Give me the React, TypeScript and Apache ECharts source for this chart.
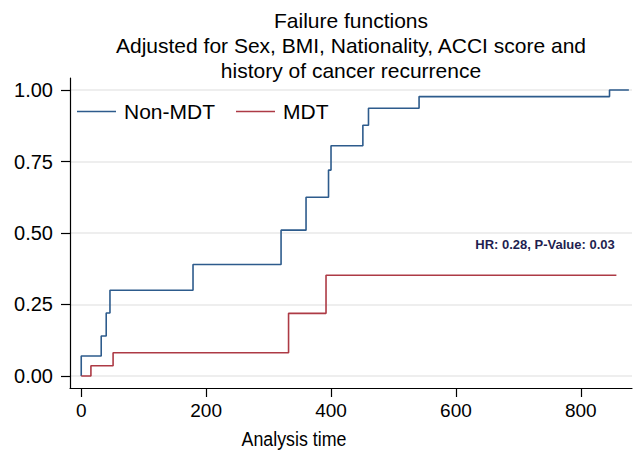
import React, { useEffect, useRef } from "react";
import * as echarts from "echarts";

const titleLines = [
  "Failure functions",
  "Adjusted for Sex, BMI, Nationality, ACCI score and",
  "history of cancer recurrence",
];
const nonMdtTimes = [0, 0, 32, 40, 46, 179, 320, 360, 396, 400, 451, 460, 541, 846, 877];
const nonMdtValues = [0, 0.07, 0.14, 0.22, 0.3, 0.39, 0.51, 0.625, 0.72, 0.805, 0.877, 0.936, 0.977, 1.0, 1.0];
const mdtTimes = [0, 15.5, 51, 332, 392, 857];
const mdtValues = [0, 0.036, 0.081, 0.219, 0.352, 0.352];
const xTicks = [0, 200, 400, 600, 800];
const yTicks = [0, 0.25, 0.5, 0.75, 1.0];
const annotation = "HR: 0.28, P-Value: 0.03";

const FONT = "'Liberation Sans', Arial, sans-serif";

export default function App() {
  const ref = useRef<HTMLDivElement>(null);
  useEffect(() => {
    if (!ref.current) return;
    const chart = echarts.init(ref.current, undefined, { renderer: "svg" });
    const blue = "#2d5b8c";
    const red = "#ad3a45";
    chart.setOption({
      animation: false,
      backgroundColor: "#ffffff",
      textStyle: { fontFamily: FONT },
      grid: { left: 70, right: 2, top: 78, bottom: 63, containLabel: false },
      legend: {
        data: [
          { name: "Non-MDT", icon: "rect", itemStyle: { color: blue } },
          { name: "MDT", icon: "rect", itemStyle: { color: red } },
        ],
        left: 72,
        top: 96,
        itemWidth: 39,
        itemHeight: 1.6,
        itemGap: 21,
        textStyle: { fontSize: 21, color: "#000", fontFamily: FONT, padding: [0, 0, 0, 3] },
      },
      xAxis: {
        type: "value",
        min: -18,
        max: 882,
        axisLine: { show: true, onZero: false, lineStyle: { color: "#000", width: 1.2 } },
        axisTick: { show: true, length: 9, customValues: xTicks, lineStyle: { color: "#000", width: 1.2 } },
        axisLabel: {
          customValues: xTicks,
          fontSize: 19,
          color: "#000",
          margin: 13,
          fontFamily: FONT,
        },
        splitLine: { show: false },
      },
      yAxis: {
        type: "value",
        min: -0.042,
        max: 1.042,
        axisLine: { show: true, onZero: false, lineStyle: { color: "#000", width: 1.2 } },
        axisTick: { show: true, length: 9, customValues: yTicks, lineStyle: { color: "#000", width: 1.2 } },
        axisLabel: {
          customValues: yTicks,
          fontSize: 20,
          color: "#000",
          margin: 17,
          fontFamily: FONT,
          formatter: (v: number) => v.toFixed(2),
        },
        splitLine: { show: false },
      },
      series: [
        {
          name: "grid",
          type: "line",
          data: [],
          z: 0,
          silent: true,
          markLine: {
            silent: true,
            z: 0,
            symbol: "none",
            label: { show: false },
            lineStyle: { color: "#e8e8e8", type: "solid", width: 1.5 },
            data: yTicks.map((v) => ({ yAxis: v })),
          },
        },
        {
          name: "Non-MDT",
          type: "line",
          step: "end",
          symbol: "none",
          z: 3,
          lineStyle: { color: blue, width: 1.6 },
          itemStyle: { color: blue },
          data: nonMdtTimes.map((t, i) => [t, nonMdtValues[i]]),
        },
        {
          name: "MDT",
          type: "line",
          step: "end",
          symbol: "none",
          z: 3,
          lineStyle: { color: red, width: 1.6 },
          itemStyle: { color: red },
          data: mdtTimes.map((t, i) => [t, mdtValues[i]]),
        },
      ],
      graphic: [
        ...titleLines.map((line, i) => ({
          type: "text",
          x: 351,
          y: 20 + i * 25,
          style: {
            text: line,
            fill: "#000",
            font: `21px ${FONT}`,
            textAlign: "center",
            textVerticalAlign: "middle",
          },
        })),
        {
          type: "text",
          x: 294,
          y: 439,
          scaleX: 0.89,
          style: {
            text: "Analysis time",
            fill: "#000",
            font: `20px ${FONT}`,
            textAlign: "center",
            textVerticalAlign: "middle",
          },
        },
        {
          type: "text",
          x: 545,
          y: 244,
          z: 10,
          style: {
            text: annotation,
            fill: "#1f1f50",
            font: `bold 13px ${FONT}`,
            textAlign: "center",
            textVerticalAlign: "middle",
          },
        },
      ],
    });
    return () => chart.dispose();
  }, []);
  return <div ref={ref} style={{ width: 634, height: 451, position: "absolute", left: 0, top: 0 }} />;
}
